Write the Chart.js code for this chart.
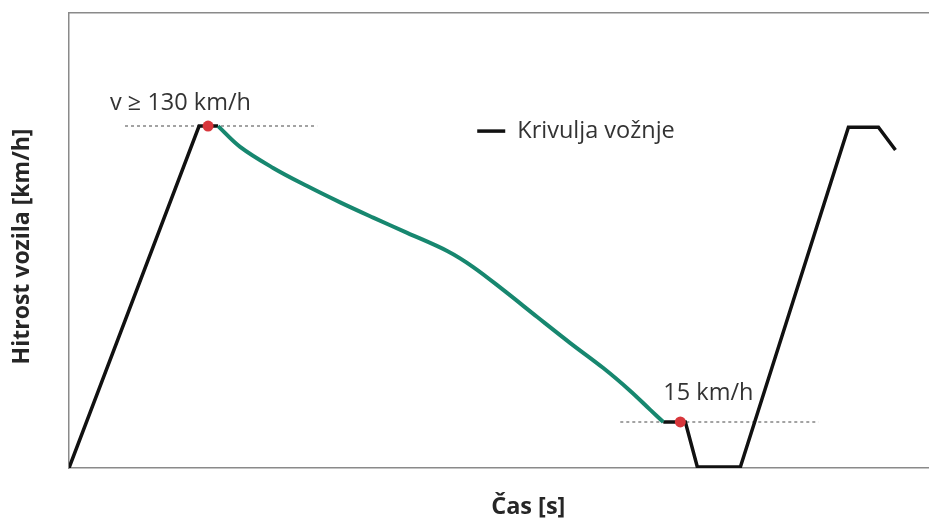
<!DOCTYPE html>
<html>
<head>
<meta charset="utf-8">
<script src="https://cdn.jsdelivr.net/npm/chart.js@4/dist/chart.umd.min.js"></script>
<style>
html,body{margin:0;padding:0;overflow:hidden;background:#fff;}
#wrap{width:993px;height:521px;position:relative;}
</style>
</head>
<body>
<div id="wrap"><canvas id="c"></canvas></div>
<script>
// ---- data (time in arbitrary s units, speed in km/h) ----
const blackX = [0, 13.0, 14.9, null, 59.4, 61.6, 62.8, 67.1, 77.9, 80.9, 82.6];
const blackY = [0, 130, 130, null, 17.5, 17.5, 0.4, 0.4, 129.6, 129.6, 120.9];
const greenX = [14.9, 17.1, 20.4, 23.8, 27.1, 30.4, 33.8, 37.8, 40.4, 43.4, 46.8, 50.1, 53.4, 56.1, 58.1, 59.4];
const greenY = [130, 122.1, 114.1, 107.2, 101.0, 95.2, 89.4, 82.5, 76.4, 67.7, 57.4, 47.5, 38.0, 29.3, 22.1, 17.5];
const markerX = [13.9, 61.1];
const markerY = [130, 17.5];
const refLineX = [5.6, 24.8, null, 55.1, 74.9];
const refLineY = [130, 130, null, 17.5, 17.5];
const noteTexts = ['v \u2265 130 km/h', '15 km/h'];
const noteX = [4.1, 59.4];
const noteY = [138.8, 28.5];
const legendText = 'Krivulja vo\u017enje';
const legendX = [40.8, 43.6];
const legendY = 128.1;
const xTitle = '\u010cas [s]';
const yTitle = 'Hitrost vozila [km/h]\u00a0\u00a0';

const pts = (xs, ys) => xs.map((x, i) => x === null ? {x: null, y: null} : {x: x, y: ys[i]});

const annot = {
  id: 'annot',
  afterDatasetsDraw(chart) {
    const ctx = chart.ctx, xs = chart.scales.x, ys = chart.scales.y;
    ctx.save();
    ctx.font = '23.5px "Open Sans"';
    ctx.fillStyle = '#333333';
    ctx.textBaseline = 'middle';
    ctx.textAlign = 'left';
    noteTexts.forEach((t, i) => ctx.fillText(t, xs.getPixelForValue(noteX[i]), ys.getPixelForValue(noteY[i])));
    // legend
    const ly = ys.getPixelForValue(legendY);
    ctx.strokeStyle = '#111111';
    ctx.lineWidth = 3.5;
    ctx.beginPath();
    ctx.moveTo(xs.getPixelForValue(legendX[0]), ly);
    ctx.lineTo(xs.getPixelForValue(legendX[1]), ly);
    ctx.stroke();
    ctx.fillText(legendText, xs.getPixelForValue(legendX[1]) + 12, ly);
    ctx.restore();
  }
};

new Chart(document.getElementById('c'), {
  type: 'scatter',
  data: {
    datasets: [
      { data: pts(markerX, markerY), showLine: false, pointRadius: 5.5, pointBackgroundColor: '#d8363b', pointBorderWidth: 0, order: 0 },
      { data: pts(greenX, greenY), showLine: true, borderColor: '#17876f', borderWidth: 4, pointRadius: 0, tension: 0.35, order: 1 },
      { data: pts(blackX, blackY), showLine: true, spanGaps: false, borderColor: '#111111', borderWidth: 3.5, pointRadius: 0, tension: 0, borderJoinStyle: 'miter', order: 2 },
      { data: pts(refLineX, refLineY), showLine: true, spanGaps: false, borderColor: '#a3a3a3', borderWidth: 2, borderDash: [3, 3], pointRadius: 0, order: 3 }
    ]
  },
  options: {
    responsive: true,
    maintainAspectRatio: false,
    animation: false,
    events: [],
    layout: { padding: 0 },
    plugins: { legend: { display: false }, tooltip: { enabled: false } },
    scales: {
      x: {
        type: 'linear', position: 'bottom', min: 0, max: 91.8,
        grid: { display: false },
        border: { display: true, color: '#8a8a8a', width: 1.5 },
        ticks: { display: false },
        title: { display: true, text: xTitle, font: { family: '"Open Sans"', size: 23.5, weight: 'bold' }, color: '#262626', padding: { top: 0, bottom: 0 } },
        afterFit(s) { s.height = 53; }
      },
      xTop: {
        type: 'linear', position: 'top', min: 0, max: 91.8,
        grid: { display: false },
        border: { display: true, color: '#8a8a8a', width: 1.5 },
        ticks: { display: false },
        afterFit(s) { s.height = 13; }
      },
      y: {
        type: 'linear', position: 'left', min: 0, max: 173,
        grid: { display: false },
        border: { display: true, color: '#8a8a8a', width: 1.5 },
        ticks: { display: false },
        title: { display: true, text: yTitle, font: { family: '"Open Sans"', size: 23, weight: 'bold' }, color: '#262626', padding: { top: 9, bottom: 0 } },
        afterFit(s) { s.width = 69; }
      }
    }
  },
  plugins: [annot]
});
</script>
</body>
</html>
